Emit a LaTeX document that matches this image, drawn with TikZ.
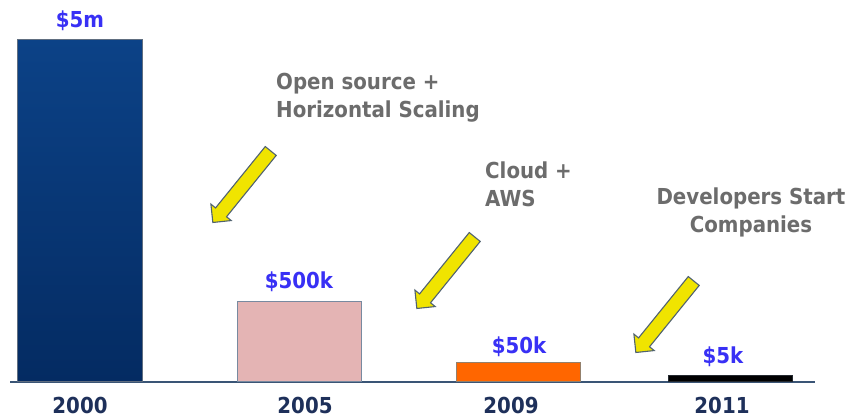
\documentclass[tikz,border=0pt]{standalone}
\usepackage{fontspec}
\setmainfont{DejaVu Sans Condensed}
\usetikzlibrary{shapes.arrows}

\definecolor{valblue}{RGB}{56,48,245}
\definecolor{yearnavy}{RGB}{30,48,90}
\definecolor{notegray}{RGB}{108,108,108}
\definecolor{navytop}{RGB}{12,66,135}
\definecolor{navybot}{RGB}{4,43,98}
\definecolor{barpink}{RGB}{228,180,180}
\definecolor{barorange}{RGB}{255,102,0}
\definecolor{barline}{RGB}{120,138,160}
\definecolor{axisline}{RGB}{58,85,118}
\definecolor{arrowfill}{RGB}{240,228,0}
\definecolor{arrowline}{RGB}{80,98,112}

\begin{document}
\begin{tikzpicture}[x=1pt,y=-1pt,
  every node/.style={inner sep=0pt},
  bar/.style={draw=barline, line width=0.9pt, anchor=south west, minimum width=124pt},
  val/.style={anchor=base, text=valblue, font=\fontsize{22}{26}\selectfont\bfseries},
  year/.style={anchor=base, text=yearnavy, font=\fontsize{22}{26}\selectfont\bfseries},
  note/.style={text=notegray, font=\fontsize{22}{28}\selectfont\bfseries},
  yarrow/.style={single arrow, draw=arrowline, fill=arrowfill, line width=1.1pt,
    minimum height=92pt, inner xsep=0pt, inner ysep=6.5pt,
    single arrow head extend=6pt, rotate=231}]
\useasboundingbox (0,0) rectangle (850,419);
\fill[white] (0,0) rectangle (850,419);

% time axis
\coordinate (axL) at (10,382);
\coordinate (axR) at (815,382);
\draw[axisline, line width=2pt] (axL) -- (axR);

% cost bars
\node[bar, draw=barline!80!black, top color=navytop, bottom color=navybot,
      minimum width=125pt, minimum height=342pt] (b2000) at (17,382) {};
\node[bar, fill=barpink, minimum height=80pt] (b2005) at (237,382) {};
\node[bar, draw=gray!70!brown, fill=barorange, minimum height=19pt] (b2009) at (456,382) {};
\node[bar, draw=black!70!barline, fill=black, minimum height=6pt] (b2011) at (668,382) {};

% cost values
\node[val] (v2000) at (80,28) {\$5m};
\node[val] (v2005) at (299,288) {\$500k};
\node[val] (v2009) at (519,353) {\$50k};
\node[val] (v2011) at (723,363) {\$5k};

% years
\node[year] (y2000) at (80,413) {2000};
\node[year] (y2005) at (305,413) {2005};
\node[year] (y2009) at (511,413) {2009};
\node[year] (y2011) at (722,413) {2011};

% drivers of the cost drop
\node[note, align=left, anchor=north west] (n1) at (276,73) {Open source +\\Horizontal Scaling};
\node[note, align=left, anchor=north west] (n2) at (485,162) {Cloud +\\AWS};
\node[note, align=center, anchor=north] (n3) at (751,188) {Developers Start\\Companies};

\node[yarrow] (a1) at (244,184) {};
\node[yarrow] (a2) at (448,270) {};
\node[yarrow] (a3) at (667,314) {};
\end{tikzpicture}
\end{document}
